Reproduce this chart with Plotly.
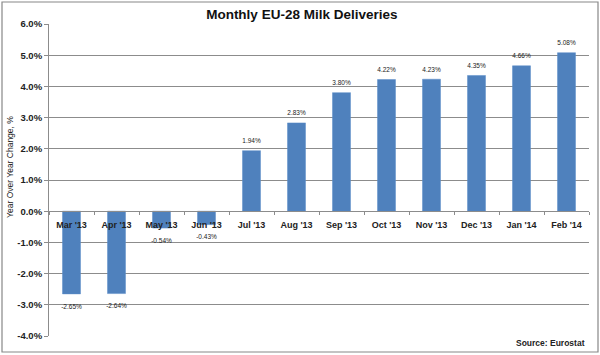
import plotly.graph_objects as go

categories = ["Mar '13", "Apr '13", "May '13", "Jun '13", "Jul '13", "Aug '13",
              "Sep '13", "Oct '13", "Nov '13", "Dec '13", "Jan '14", "Feb '14"]
values = [-2.65, -2.64, -0.54, -0.43, 1.94, 2.83, 3.80, 4.22, 4.23, 4.35, 4.66, 5.08]
labels = [f"{v:.2f}%" for v in values]
ytick_vals = [-4, -3, -2, -1, 0, 1, 2, 3, 4, 5, 6]
ytick_text = [f"{v:.1f}%" for v in ytick_vals]

FONT = "Liberation Sans"

fig = go.Figure()
fig.add_trace(go.Bar(
    x=categories, y=values,
    marker=dict(color="#4F81BD", line=dict(color="#5B8CC8", width=0.5)),
    hoverinfo="skip",
))
fig.add_trace(go.Scatter(
    x=categories, y=values, mode="markers+text",
    marker=dict(size=[8 if v >= 0 else 14 for v in values], color="rgba(0,0,0,0)",
                opacity=0, line=dict(width=0, color="rgba(0,0,0,0)")),
    text=labels,
    textposition=["top center" if v >= 0 else "bottom center" for v in values],
    textfont=dict(size=6.5, color="#222", family=FONT),
    cliponaxis=False, hoverinfo="skip",
))

fig.update_layout(
    width=600, height=355,
    margin=dict(l=49, r=11, t=24, b=19, autoexpand=False),
    paper_bgcolor="white", plot_bgcolor="white",
    bargap=0.6, showlegend=False,
    title=dict(text="<b>Monthly EU-28 Milk Deliveries</b>", x=0.503, xanchor="center",
               y=1 - 14 / 355, yanchor="middle", automargin=False,
               font=dict(size=13.5, family=FONT, color="#111")),
    xaxis=dict(
        anchor="free", position=0.4, automargin=False,
        range=[-0.5, len(categories) - 0.5],
        showline=True, linecolor="#8c8c8c", linewidth=1,
        ticks="outside", ticklen=3, tickcolor="#8c8c8c", tickson="boundaries",
        ticklabelstandoff=5,
        tickfont=dict(size=9, family=FONT, color="#222", weight="bold"),
        showgrid=False, fixedrange=True,
    ),
    yaxis=dict(
        range=[-4, 6], tickvals=ytick_vals, ticktext=ytick_text, automargin=False,
        showline=True, linecolor="#8c8c8c", linewidth=1,
        ticks="outside", ticklen=4, tickcolor="#8c8c8c",
        showgrid=True, gridcolor="#8c8c8c", gridwidth=1,
        zeroline=False, layer="below traces", fixedrange=True,
        tickfont=dict(size=9.5, family=FONT, color="#222", weight="bold"),
    ),
    shapes=[dict(type="rect", xref="paper", yref="paper",
                 x0=(2 - 49) / 540, x1=(598 - 49) / 540,
                 y0=(336 - 352) / 312, y1=(336 - 2) / 312,
                 line=dict(color="#888", width=1.2), fillcolor="rgba(0,0,0,0)", layer="above")],
    annotations=[
        dict(text="Year Over Year Change, %", xref="paper", yref="paper",
             x=(10 - 49) / 540, y=0.542, textangle=-90, showarrow=False,
             xanchor="center", yanchor="middle",
             font=dict(size=8.5, family=FONT, color="#222")),
        dict(text="<b>Source: Eurostat</b>", xref="paper", yref="paper",
             x=(587 - 49) / 540, y=(336 - 343) / 312, showarrow=False,
             xanchor="right", yanchor="middle",
             font=dict(size=8.5, family=FONT, color="#222")),
    ],
)

fig.write_html("out.html", config={"displayModeBar": False},
               post_script="document.body.style.margin='0';document.body.style.padding='0';")
